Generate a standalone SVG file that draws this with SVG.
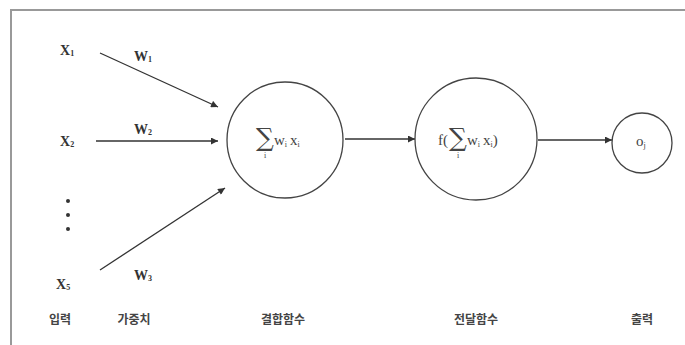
<svg xmlns="http://www.w3.org/2000/svg" width="685" height="345" viewBox="0 0 685 345">
<style>
.lbl{font-family:"Liberation Serif","Times New Roman",serif;font-size:14px;fill:#333;font-weight:bold}
.sub{font-size:8px}
.math{font-family:"Liberation Serif","Times New Roman",serif;font-size:15px;fill:#444}
.sig{font-family:"DejaVu Serif",serif;font-size:25px;fill:#444}
.si{font-family:"Liberation Serif",serif;font-size:8px;fill:#444}
.kr{font-family:"Noto Sans CJK KR",sans-serif;font-size:12px;font-weight:bold;fill:#444}
.node{fill:#fff;stroke:#444;stroke-width:1.3}
.edge{stroke:#333;stroke-width:1.3;fill:none;marker-end:url(#ah)}
</style>
<defs>
<marker id="ah" viewBox="0 0 10 10" refX="10" refY="5" markerWidth="9" markerHeight="7" orient="auto" markerUnits="userSpaceOnUse">
<path d="M0,0 L10,5 L0,10 z" fill="#333"/>
</marker>
</defs>
<rect width="685" height="345" fill="#fff"/>
<path d="M11,345 V10 H685" fill="none" stroke="#999" stroke-width="2"/>
<g id="connectors">
<line class="edge" x1="100" y1="53" x2="218" y2="107"/>
<line class="edge" x1="96" y1="141" x2="218" y2="141"/>
<line class="edge" x1="100" y1="270" x2="225" y2="188"/>
<line class="edge" x1="345" y1="139" x2="415" y2="139"/>
<line class="edge" x1="538" y1="140" x2="612" y2="140"/>
</g>
<g id="inputs">
<text class="lbl" x="60" y="55">X<tspan class="sub" dy="1">1</tspan></text>
<text class="lbl" x="60" y="146">X<tspan class="sub" dy="1">2</tspan></text>
<circle cx="68" cy="201" r="2" fill="#333"/>
<circle cx="68" cy="215" r="2" fill="#333"/>
<circle cx="68" cy="229" r="2" fill="#333"/>
<text class="lbl" x="56" y="289">X<tspan class="sub" dy="1">5</tspan></text>
</g>
<g id="weights">
<text class="lbl" x="134" y="61">W<tspan class="sub" dy="1">1</tspan></text>
<text class="lbl" x="134" y="134">W<tspan class="sub" dy="1">2</tspan></text>
<text class="lbl" x="134" y="280">W<tspan class="sub" dy="1">3</tspan></text>
</g>
<g id="sum">
<circle class="node" cx="285" cy="140" r="58"/>
<text class="sig" x="256" y="146">∑</text>
<text class="si" x="264" y="158">i</text>
<text class="math" x="274" y="145">w<tspan class="sub" dy="2">i</tspan><tspan dx="3" dy="-2">x</tspan><tspan class="sub" dy="2">i</tspan></text>
</g>
<g id="transfer">
<circle class="node" cx="476" cy="139" r="61"/>
<text class="math" x="438" y="145">f(</text>
<text class="sig" x="449" y="146">∑</text>
<text class="si" x="457" y="158">i</text>
<text class="math" x="467" y="145">w<tspan class="sub" dy="2">i</tspan><tspan dx="3" dy="-2">x</tspan><tspan class="sub" dy="2">i</tspan><tspan dy="-2">)</tspan></text>
</g>
<g id="output">
<circle class="node" cx="642" cy="143" r="30"/>
<text class="math" x="636" y="146" font-size="12">o<tspan class="sub" dy="2">j</tspan></text>
</g>
<g id="captions">
<text class="kr" x="60" y="324" text-anchor="middle">입력</text>
<text class="kr" x="134" y="324" text-anchor="middle">가중치</text>
<text class="kr" x="283" y="324" text-anchor="middle">결합함수</text>
<text class="kr" x="476" y="324" text-anchor="middle">전달함수</text>
<text class="kr" x="642" y="324" text-anchor="middle">출력</text>
</g>
</svg>
